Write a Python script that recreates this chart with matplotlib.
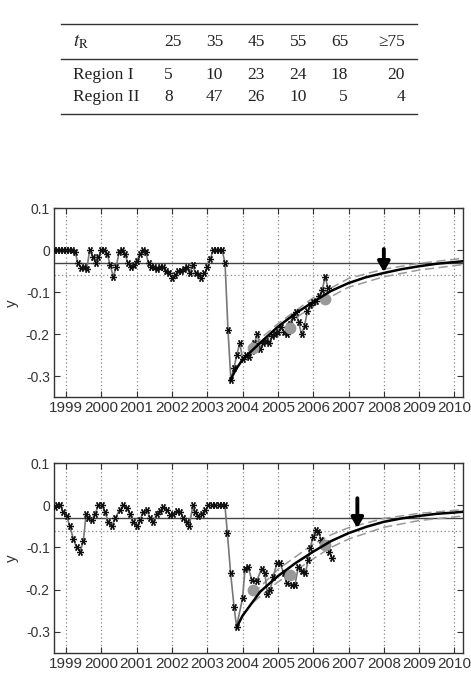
import numpy as np
import matplotlib
matplotlib.use("Agg")
import matplotlib.pyplot as plt
from matplotlib.lines import Line2D

# ---------------- table data ----------------
table_header = ["25", "35", "45", "55", "65", "\u226575"]
table_rows = ["Region I", "Region II"]
region1_counts = [5, 10, 23, 24, 18, 20]
region2_counts = [8, 47, 26, 10, 5, 4]

# ---------------- series data ----------------
start_year = 1998.67   # Region I is monthly from here
region1_y = [0, 0, 0, 0, 0, 0, 0, -0.003, -0.03, -0.042, -0.04, -0.045, 0, -0.015, -0.03,
             -0.015, 0, 0, -0.01, -0.035, -0.063, -0.04, -0.005, 0, -0.01, -0.03, -0.04,
             -0.035, -0.025, -0.01, 0, -0.005, -0.03, -0.04, -0.04, -0.045, -0.04, -0.04,
             -0.05, -0.055, -0.065, -0.06, -0.05, -0.05, -0.045, -0.04, -0.055, -0.035,
             -0.055, -0.06, -0.065, -0.055, -0.04, -0.02, 0, 0, 0, 0, -0.03, -0.19, -0.31,
             -0.28, -0.25, -0.22, -0.26, -0.25, -0.255, -0.24, -0.22, -0.20, -0.235, -0.22,
             -0.215, -0.22, -0.205, -0.20, -0.195, -0.183, -0.195, -0.20, -0.175, -0.16,
             -0.147, -0.17, -0.20, -0.18, -0.145, -0.13, -0.123, -0.12, -0.11, -0.095,
             -0.063, -0.09]

region2_x = [1998.68, 1998.74, 1998.83, 1998.92, 1999.02, 1999.11, 1999.21, 1999.30, 1999.40,
             1999.49, 1999.57, 1999.63, 1999.73, 1999.82, 1999.92, 2000.01, 2000.10, 2000.20,
             2000.29, 2000.39, 2000.53, 2000.62, 2000.72, 2000.81, 2000.91, 2001.00, 2001.10,
             2001.19, 2001.29, 2001.38, 2001.47, 2001.57, 2001.66, 2001.76, 2001.85, 2001.95,
             2002.04, 2002.14, 2002.23, 2002.32, 2002.42, 2002.49, 2002.59, 2002.65, 2002.75,
             2002.84, 2002.94, 2003.03, 2003.13, 2003.22, 2003.32, 2003.41, 2003.50,
             2003.57, 2003.66, 2003.76, 2003.83, 2004.00, 2004.07, 2004.16, 2004.26, 2004.40,
             2004.54, 2004.63, 2004.70, 2004.78, 2004.87, 2004.97, 2005.06, 2005.16, 2005.25,
             2005.39, 2005.48, 2005.58, 2005.67, 2005.78, 2005.86, 2005.91, 2006.00, 2006.08,
             2006.14, 2006.23, 2006.37, 2006.46, 2006.52]
region2_y = [-0.003, 0, 0, -0.015, -0.025, -0.05, -0.08, -0.10, -0.11,
             -0.085, -0.02, -0.03, -0.035, -0.02, 0, 0, -0.015, -0.04,
             -0.05, -0.03, -0.01, 0, -0.007, -0.02, -0.04, -0.05, -0.035,
             -0.015, -0.012, -0.03, -0.04, -0.02, -0.013, -0.003, -0.01, -0.023,
             -0.02, -0.013, -0.015, -0.03, -0.04, -0.05, 0, -0.015, -0.025,
             -0.02, -0.012, 0, 0, 0, 0, 0, 0,
             -0.066, -0.16, -0.242, -0.288, -0.22, -0.15, -0.147, -0.177, -0.18,
             -0.15, -0.16, -0.21, -0.20, -0.17, -0.137, -0.137, -0.16, -0.185,
             -0.19, -0.19, -0.146, -0.155, -0.16, -0.13, -0.102, -0.074, -0.058,
             -0.063, -0.082, -0.09, -0.11, -0.126]

# annual means (gray dots)
mean_x = [2004.3, 2005.35, 2006.34]
region1_mean = [-0.232, -0.186, -0.116]
region2_mean = [-0.20, -0.165, -0.095]

# recovery fit
fit1_x = [2003.65, 2003.8, 2004.0, 2004.5, 2005.0, 2005.5, 2006.0, 2006.5, 2007.0, 2007.5,
          2008.0, 2008.5, 2009.0, 2009.5, 2010.0, 2010.25]
fit1_y = [-0.31, -0.285, -0.26, -0.22, -0.182, -0.15, -0.123, -0.097, -0.078, -0.064,
          -0.054, -0.045, -0.038, -0.032, -0.028, -0.026]
band1_x = [2004.3, 2005.0, 2006.0, 2007.0, 2008.0, 2009.0, 2010.25]
band1_hi = [-0.225, -0.175, -0.113, -0.067, -0.045, -0.031, -0.019]
band1_lo = [-0.235, -0.19, -0.133, -0.088, -0.063, -0.047, -0.034]

fit2_x = [2003.83, 2004.0, 2004.35, 2004.5, 2005.0, 2005.5, 2006.0, 2006.5, 2007.0, 2007.5,
          2008.0, 2008.5, 2009.0, 2009.5, 2010.0, 2010.25]
fit2_y = [-0.29, -0.262, -0.222, -0.205, -0.168, -0.137, -0.11, -0.085, -0.066, -0.051,
          -0.039, -0.031, -0.025, -0.02, -0.017, -0.015]
band2_x = [2004.3, 2005.0, 2006.0, 2006.5, 2007.0, 2008.0, 2009.0, 2010.25]
band2_hi = [-0.21, -0.152, -0.092, -0.07, -0.053, -0.031, -0.019, -0.01]
band2_lo = [-0.23, -0.182, -0.127, -0.1, -0.08, -0.052, -0.036, -0.025]

arrow_x = [2008.0, 2007.25]
arrow_top = [0.003, 0.017]
arrow_tip = [-0.052, -0.054]

ref_solid = -0.03
ref_dotted = -0.06
year_ticks = list(range(1999, 2011))
y_ticks = [0.1, 0, -0.1, -0.2, -0.3]
y_ticklabels = ["0.1", "0", "-0.1", "-0.2", "-0.3"]

# ---------------- figure ----------------
W, H = 471, 675
fig = plt.figure(figsize=(W / 100, H / 100), dpi=100)

serif = ["Liberation Serif", "DejaVu Serif"]
sans = ["Liberation Sans", "DejaVu Sans"]
plt.rcParams["mathtext.fontset"] = "stix"
def fx(px):
    return px / W
def fy(py):
    return 1 - py / H
for yy in [24.3, 59, 114]:
    fig.add_artist(Line2D([fx(61), fx(417)], [fy(yy), fy(yy)], color="#333333", lw=1.0))
fs_t = 12.5
fig.text(fx(73), fy(42), r"$t_{\mathrm{R}}$", fontsize=fs_t + 1, ha="left", va="center",
         color="#222222")
hdr_pos = [(164, "left"), (223, "right"), (265, "right"), (307, "right"), (348, "right"), (405, "right")]
for (px, al), lab in zip(hdr_pos, table_header):
    fig.text(fx(px), fy(42), lab, fontsize=fs_t, family=serif, ha=al, va="center", color="#222222")
for ry, name, vals in [(75, table_rows[0], region1_counts), (97, table_rows[1], region2_counts)]:
    fig.text(fx(73), fy(ry), name, fontsize=fs_t, family=serif, ha="left", va="center", color="#222222")
    for (px, al), v in zip(hdr_pos, vals):
        fig.text(fx(px), fy(ry), str(v), fontsize=fs_t, family=serif, ha=al, va="center",
                 color="#222222")

ax_rects = [
    [54 / W, 1 - 397.3 / H, (463.3 - 54) / W, (397.3 - 208.3) / H],
    [54 / W, 1 - 652.7 / H, (463.3 - 54) / W, (652.7 - 463.3) / H],
]
series_x = [start_year + np.arange(len(region1_y)) / 12.0, np.array(region2_x)]
series_y = [np.array(region1_y), np.array(region2_y)]
means = [region1_mean, region2_mean]
fits = [(fit1_x, fit1_y), (fit2_x, fit2_y)]
bands = [(band1_x, band1_hi, band1_lo), (band2_x, band2_hi, band2_lo)]

for k in range(2):
    ax = fig.add_axes(ax_rects[k])
    xv, yv = series_x[k], series_y[k]
    ax.set_xlim(1998.66, 2010.25)
    ax.set_ylim(-0.35, 0.1)
    for yr in year_ticks:
        ax.axvline(yr, color="#888888", ls=(0, (1, 2)), lw=0.9, zorder=0)
    ax.axhline(ref_solid, color="#444444", lw=1.0, zorder=1)
    ax.axhline(ref_dotted, color="#888888", ls=(0, (1, 2)), lw=0.9, zorder=1)
    bx, bh, bl = bands[k]
    ax.plot(bx, bh, color="#999999", ls=(0, (6, 3)), lw=1.1, zorder=2)
    ax.plot(bx, bl, color="#999999", ls=(0, (6, 3)), lw=1.1, zorder=2)
    ax.plot(xv, yv, color="#777777", lw=1.2, zorder=3)
    ax.plot(xv, yv, ls="none", marker=(6, 2, 90), ms=5, mec="#111111", mew=0.9, zorder=4)
    ax.plot(mean_x, means[k], ls="none", marker="o", ms=7.5, mfc="#999999", mec="#999999", zorder=5)
    ax.plot(fits[k][0], fits[k][1], color="black", lw=1.8, zorder=6)
    ax.annotate("", xy=(arrow_x[k], arrow_tip[k]), xytext=(arrow_x[k], arrow_top[k]),
                arrowprops=dict(arrowstyle="-|>,head_width=0.35,head_length=0.6",
                                color="black", lw=2.8, shrinkA=0, shrinkB=0), zorder=7)
    ax.set_xticks(year_ticks)
    ax.set_xticklabels([str(y) for y in year_ticks], fontsize=11, color="#333333", family=sans)
    ax.set_yticks(y_ticks)
    ax.set_yticklabels(y_ticklabels, fontsize=10, color="#333333", family=sans)
    ax.tick_params(direction="in", length=4, top=True, right=True, color="#333333", pad=3)
    ax.tick_params(axis="x", pad=3)
    for s in ax.spines.values():
        s.set_color("#333333")
        s.set_linewidth(1.0)
    ax.set_ylabel("y", fontsize=11, color="#333333", family=sans, labelpad=5)

fig.savefig("out.png", dpi=100)
